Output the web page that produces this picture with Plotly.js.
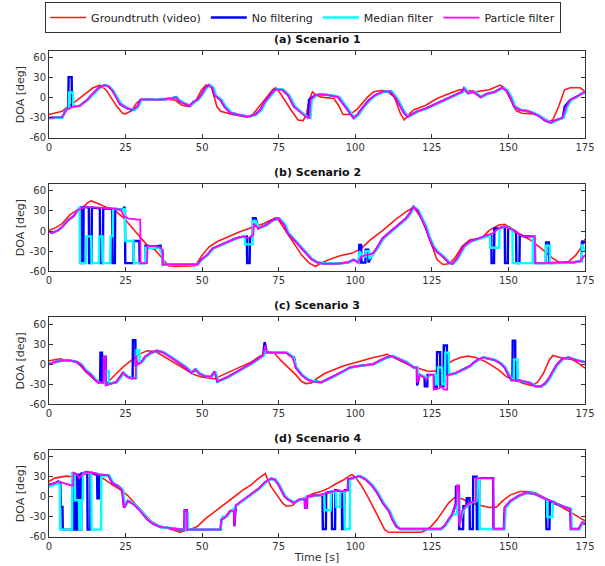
<!DOCTYPE html>
<html>
<head>
<meta charset="utf-8">
<script src="https://cdn.plot.ly/plotly-3.0.1.min.js"></script>
<style>html,body{margin:0;padding:0;background:#fff;}#chart{width:605px;height:566px;}</style>
</head>
<body>
<div id="chart"></div>
<script>
// ---------- Data: [time (s), DOA (deg)] ----------
const seriesNames = ["Groundtruth (video)", "No filtering", "Median filter", "Particle filter"];
const panelTitles = ["(a) Scenario 1", "(b) Scenario 2", "(c) Scenario 3", "(d) Scenario 4"];
const xTicks = [0, 25, 50, 75, 100, 125, 150, 175];
const yTicks = [-60, -30, 0, 30, 60];

// Scenario 1
const s1_gt = [[0,-25],[4.3,-20],[9.3,-3],[14.4,15],[16.7,19],[18.8,11],[22,-12],[24,-23],[25,-24],[27,-19],[28.5,-8],[30,-3],[30.8,-2],[33,-3],[38,-2],[41,-3],[43.4,-11],[46,-13],[47.8,-6],[49.7,11],[51.2,19],[53,17],[54.8,-13],[56,-20],[60,-25],[63.6,-28],[66,-28],[68.6,-13],[71,1],[73,12],[74,15],[75.6,6],[78.7,-16],[81.3,-33],[83,-34],[84,-25],[85,-3],[86,9],[87,5],[88.8,1],[93,-1],[94.5,-11],[96,-25],[98.3,-25],[100.8,-16],[104,1],[106,9],[108.5,11],[110.6,9],[112.8,1],[114.7,-23],[116,-33],[117.5,-25],[119,-18],[123,-11],[126.7,-1],[130.5,6],[134,12],[136.8,11],[139.3,9],[143.7,12],[147.3,19],[148.8,15],[150.7,-3],[152.5,-19],[154.4,-23],[158.2,-24],[160.7,-28],[163.3,-35],[164.5,-33],[166.4,-13],[168.3,12],[170.2,15],[173.4,15],[174.6,11],[175,6]];
const s1_pf = [[0,-30],[4.3,-29],[5.6,-18],[8,-13],[10,-12],[12.5,-3],[13.8,4],[15,9],[16.3,15],[18.2,19],[19.5,17],[20.7,11],[22,1],[23.2,-9],[24.5,-13],[25.8,-16],[27.6,-18],[28.9,-13],[29.9,-3],[32,-2],[35,-3],[38,-2],[40,-1],[41.5,1],[42.4,-4],[44,-8],[46,-12],[47.2,-6],[48.5,-3],[49.7,4],[51,14],[52.2,19],[53.4,15],[54.1,4],[56,-3],[57.3,-13],[59.2,-22],[61.7,-25],[64.9,-28],[67.4,-25],[69,-18],[70.5,-6],[71.8,1],[73.7,12],[76.2,12],[78.1,4],[80,-13],[81.9,-20],[83.8,-28],[85,-30],[85.4,-3],[87,4],[88.8,5],[91.4,4],[94.5,1],[96.4,-11],[98.3,-23],[99.5,-30],[100.8,-25],[102.7,-13],[104.6,-3],[106.5,4],[109,9],[111.5,10],[113.4,-1],[114.7,-11],[116,-23],[117.2,-28],[118.5,-25],[120.4,-20],[123,-16],[125.4,-11],[128,-6],[130.5,-1],[133,4],[134.9,9],[135.5,14],[136.8,7],[138.6,9],[140,4],[141,1],[143,6],[145.6,9],[148,15],[149.4,11],[150.7,1],[151.9,-13],[153.8,-18],[156.4,-20],[158.2,-23],[160,-27],[162,-34],[163.9,-37],[165.8,-33],[167.7,-30],[168.9,-13],[170.2,-3],[172,1],[174,6],[175,9]];
const s1_nf = [[0,-30],[4.3,-29],[5.6,-18],[6.3,-16],[6.4,31],[7.4,31],[7.5,-13],[8,-13],[10,-12],[12.5,-3],[13.8,4],[15,9],[16.3,15],[18.2,19],[19.5,17],[20.7,11],[22,1],[23.2,-9],[24.5,-13],[25.8,-16],[27.6,-18],[28.9,-13],[29.9,-3],[32,-2],[35,-3],[38,-2],[40,-1],[41.5,1],[42.4,-4],[44,-8],[46,-12],[47.2,-6],[48.5,-3],[49.7,4],[51,14],[52.2,19],[53.4,15],[54.1,4],[56,-3],[57.3,-13],[59.2,-22],[61.7,-25],[64.9,-28],[67.4,-25],[69,-18],[70.5,-6],[71.8,1],[73.7,12],[76.2,12],[78.1,4],[80,-13],[81.9,-20],[83.8,-28],[84.6,-30],[84.9,-3],[87,4],[88.8,5],[91.4,4],[94.5,1],[96.4,-11],[98.3,-23],[99.5,-30],[100.8,-25],[102.7,-13],[104.6,-3],[106.5,4],[109,9],[111.5,10],[113.4,-1],[114.7,-11],[116,-23],[117.2,-28],[118.5,-25],[120.4,-20],[123,-16],[125.4,-11],[128,-6],[130.5,-1],[133,4],[134.9,9],[135.5,14],[136.8,7],[138.6,9],[140,4],[141,1],[143,6],[145.6,9],[148,15],[149.4,11],[150.7,1],[151.9,-13],[153.8,-18],[156.4,-20],[158.2,-23],[160,-27],[162,-34],[163.9,-37],[165.8,-33],[167.7,-30],[168.4,-13],[170.2,-3],[172,1],[174,6],[175,9]];
const s1_md = [[0,-31],[4.3,-29],[5.6,-18],[6.5,-16],[6.6,8],[7.8,8],[7.9,-13],[8,-13],[10,-12],[12.8,-3],[14.2,4],[15.4,9],[16.6,15],[18.5,19],[19.8,17],[21,11],[22.4,1],[23.6,-9],[24.9,-13],[26.2,-16],[28,-18],[29.3,-13],[30.3,-3],[32,-2],[35,-3],[38,-2],[40,-1],[41.8,1],[42.8,-4],[44.4,-8],[46.4,-12],[47.6,-6],[48.8,-3],[50,4],[51.4,14],[52.6,19],[53.8,15],[54.5,4],[56.4,-3],[57.8,-13],[59.6,-22],[62,-25],[65.3,-28],[67.8,-25],[69.4,-18],[70.9,-6],[72.2,1],[74,12],[76.6,12],[78.5,4],[80.4,-13],[82.3,-20],[84.2,-28],[85.4,-30],[85.8,-3],[87.4,4],[89,5],[91.8,4],[94.9,1],[96.8,-11],[98.7,-23],[99.9,-30],[101.2,-25],[103,-13],[105,-3],[106.9,4],[109.4,9],[111.9,10],[113.8,-1],[115.1,-11],[116.4,-23],[117.6,-28],[118.9,-25],[120.8,-20],[123.4,-16],[125.8,-11],[128.4,-6],[130.9,-1],[133.4,4],[135.3,9],[135.9,14],[137.2,7],[139,9],[140.4,4],[141.4,1],[143.4,6],[146,9],[148.4,15],[149.8,11],[151.1,1],[152.3,-13],[154.2,-18],[156.8,-20],[158.6,-23],[160.4,-27],[162.4,-34],[164.3,-37],[166.2,-33],[168.1,-30],[169.3,-13],[170.6,-3],[172.4,1],[174.3,6],[175,9]];

// Scenario 2
const s2_gt = [[0,1],[1.8,4],[4.3,11],[6.8,24],[8.7,30],[10.6,32],[12.5,42],[13.8,45],[15.6,42],[18.8,36],[22,29],[24.5,19],[27,6],[29.5,-8],[32,-21],[34.6,-28],[37,-41],[39,-52],[41,-53],[47,-53],[47.8,-52],[49.7,-38],[52.2,-24],[54.8,-16],[58.5,-8],[62.3,-1],[66,5],[70,11],[72.4,16],[74,20],[75,16],[77.5,-1],[80,-18],[82.5,-36],[85,-48],[87,-53],[88.8,-48],[91.3,-43],[95,-37],[99,-33],[102,-26],[105,-13],[109,1],[112.8,16],[116.6,29],[118.5,34],[119.5,33],[121.6,19],[124,-8],[125.4,-28],[126.7,-43],[128.6,-50],[130.5,-49],[132.4,-41],[134.9,-23],[137.4,-13],[141.2,-11],[143.7,1],[146.9,9],[148.8,10],[150.7,5],[153.2,-3],[157,-13],[160.7,-26],[164.5,-41],[167,-48],[169.6,-46],[172,-36],[174,-23],[175,-12]];
const s2_pf = [[0,-1],[1,-3],[3,1],[4.3,6],[6.2,16],[8,22],[9.3,31],[11.9,36],[15.6,35],[20,34],[23,32],[23.5,31],[24.5,22],[25.7,19],[28.9,17],[29.8,17],[29.9,-48],[32,-48],[32.2,-22],[35,-23],[36.4,-25],[37,-28],[37.2,-50],[48.5,-50],[49.7,-43],[51.6,-36],[53.5,-26],[56,-21],[58.5,-16],[61,-11],[63.6,-8],[65,-11],[66.7,-6],[66.9,11],[68.3,4],[71,9],[73,16],[75,19],[76.9,9],[78,-3],[80,-13],[81.9,-23],[83.8,-33],[85.7,-42],[87.6,-47],[90,-49],[93.9,-49],[97.7,-47],[99.5,-43],[100.8,-47],[102,-38],[105.9,-33],[107,-26],[109,-11],[111,-3],[112.8,4],[114.7,11],[116.6,19],[117.8,26],[119,36],[120.4,31],[121.6,19],[123,6],[124,-8],[125.4,-23],[126.7,-31],[128.6,-38],[130.5,-47],[131.7,-49],[133,-43],[134.3,-33],[135.5,-23],[137.4,-16],[139.9,-12],[143,-7],[145,-3],[146.9,4],[148.8,7],[151.3,2],[153.8,-6],[155,-8],[158.6,-8],[158.7,-48],[162,-48],[165,-47],[168,-48],[171,-47],[173.5,-45],[175,-36]];
const s2_nf = [[0,-1],[1,-3],[3,1],[4.3,6],[6.2,16],[8,22],[9.3,31],[10.5,36],[10.6,-48],[11.2,-48],[11.3,36],[13,35],[13.1,-48],[13.9,-48],[14,35],[16.6,34],[16.7,-48],[17.6,-48],[17.7,34],[20.6,33],[20.7,-48],[21.5,-48],[21.6,33],[24,32],[24.8,36],[24.9,-48],[27.6,-48],[27.7,-15],[29.5,-15],[29.6,-48],[31.4,-48],[31.5,-22],[35,-23],[36.4,-22],[36.5,-30],[37,-28],[37.2,-50],[48.5,-50],[49.7,-43],[51.6,-36],[53.5,-26],[56,-21],[58.5,-16],[61,-11],[63.6,-8],[64.6,-8],[64.7,-48],[65.5,-48],[65.6,-11],[66.5,-6],[66.6,19],[67.5,19],[68.3,4],[71,9],[73,16],[75,19],[76.9,9],[78,-3],[80,-13],[81.9,-23],[83.8,-33],[85.7,-42],[87.6,-47],[90,-49],[93.9,-49],[97.7,-47],[99.5,-43],[100.8,-47],[101.2,-47],[101.3,-21],[101.9,-21],[102,-47],[103.3,-47],[103.4,-28],[104.2,-28],[104.3,-47],[105.9,-33],[107,-26],[109,-11],[111,-3],[112.8,4],[114.7,11],[116.6,19],[117.8,26],[119,36],[120.4,31],[121.6,19],[123,6],[124,-8],[125.4,-23],[126.7,-31],[128.6,-38],[130.5,-47],[131.7,-49],[133,-43],[134.3,-33],[135.5,-23],[137.4,-16],[139.9,-12],[143,-7],[144.4,-7],[144.5,-48],[145.3,-48],[145.4,4],[146.9,4],[148.8,7],[148.9,-48],[149.8,-48],[149.9,5],[151.3,2],[152.5,-2],[152.6,-48],[153.6,-48],[153.7,-6],[155,-8],[158.6,-8],[158.7,-48],[162.2,-48],[162.3,-17],[163.2,-17],[163.3,-48],[168,-48],[171,-47],[173.5,-45],[173.9,-45],[174,-15],[175,-18]];
const s2_md = [[0,-1],[1,-3],[3,1],[4.3,6],[6.2,16],[8,22],[9.3,31],[10,36],[10.1,-48],[12.1,-48],[12.2,-8],[13.8,-8],[13.9,-48],[16.3,-48],[16.4,-8],[17.5,-8],[17.6,-48],[20,-48],[20.1,-8],[20.8,-8],[20.9,33],[24,32],[24.8,33],[24.9,-15],[27.6,-15],[27.7,-48],[31.4,-48],[31.5,-25],[36,-25],[36.5,-28],[37.6,-50],[48.5,-50],[49.9,-43],[51.8,-36],[53.8,-26],[56.3,-21],[58.8,-16],[61.3,-11],[63.9,-8],[64.1,-20],[66.5,-20],[66.6,15],[67.5,15],[68.6,4],[71.3,9],[73.3,16],[75.3,19],[77.2,9],[78.3,-3],[80.3,-13],[82.2,-23],[84.1,-33],[86,-42],[87.9,-47],[90.3,-49],[94.2,-49],[98,-47],[99.8,-43],[101.1,-47],[101.4,-30],[102.3,-38],[103.4,-38],[103.5,-30],[104.5,-30],[104.6,-42],[106.2,-33],[107.3,-26],[109.3,-11],[111.3,-3],[113.1,4],[115,11],[116.9,19],[118.1,26],[119.3,36],[120.7,31],[121.9,19],[123.3,6],[124.3,-8],[125.7,-23],[127,-31],[128.9,-38],[130.8,-47],[132,-49],[133.3,-43],[134.6,-33],[135.8,-23],[137.7,-16],[140.2,-12],[143.3,-7],[144,-7],[144.1,-25],[147,-25],[147.1,4],[149.1,7],[151.3,2],[151.4,-48],[157.9,-48],[158,-8],[158.6,-8],[158.7,-48],[162.1,-48],[162.2,-22],[163.5,-22],[163.6,-48],[168,-48],[171,-47],[173.5,-45],[173.9,-45],[174,-20],[175,-30]];

// Scenario 3
const s3_gt = [[0,5],[1.8,7],[3.7,8],[5.6,6],[8,5],[10,-1],[11.9,-11],[14.4,-21],[16.9,-27],[18.8,-29],[20,-23],[22,-14],[24.5,-3],[27,6],[29.5,15],[32,20],[34.6,19],[37,13],[39.6,6],[42.1,-1],[44.7,-9],[47.2,-15],[49.7,-19],[52.2,-21],[54.1,-22],[56.7,-16],[59.8,-10],[63,-4],[66,3],[68.6,11],[71,17],[72.4,18],[73.7,16],[75.6,6],[78.1,-5],[80.6,-16],[82.5,-26],[83.8,-29],[85.7,-28],[87.6,-21],[90,-14],[92.6,-9],[95.8,-3],[99,1],[102.7,6],[105.9,10],[109,13],[110.3,15],[111.5,12],[114,6],[116.6,1],[119,-4],[121.6,-8],[124,-11],[126.7,-10],[129.2,-3],[131.7,5],[134.3,10],[136.8,12],[139.3,10],[141.9,5],[144.3,-1],[146.9,-9],[149.4,-19],[151.9,-24],[155,-29],[157.6,-32],[159.5,-27],[161.4,-14],[163.3,6],[164.5,13],[166.4,11],[168.3,8],[170.8,7],[172.7,2],[175,-6]];
const s3_pf = [[0,0],[1.8,3],[5,6],[7.4,5],[9.3,3],[10.6,-1],[11.9,-9],[13.8,-16],[15,-23],[16.3,-28],[17.8,-28],[17.9,11],[18.5,11],[18.6,-31],[20,-29],[22,-27],[24.2,-13],[25.7,-19],[27,-21],[28.3,-21],[28.4,13],[28.9,-1],[30.2,3],[31.4,11],[33.3,17],[35.2,20],[37.1,18],[39,13],[40.9,7],[42.8,1],[44.7,-5],[46.6,-13],[47.8,-8],[49.1,-14],[51,-18],[52.9,-19],[54.1,-11],[55,-26],[56.7,-23],[58.5,-19],[60.4,-14],[62.3,-9],[64.2,-5],[66.1,1],[68,7],[69.9,13],[70.6,28],[71.2,18],[73.7,17],[77.5,17],[79.4,11],[80.6,-5],[82.5,-16],[84.4,-23],[86.3,-26],[88.9,-27],[91.3,-22],[93.9,-16],[96.4,-10],[98.3,-5],[100.8,-3],[103.3,-1],[105.9,0],[108.4,6],[110.3,10],[112.2,12],[114.1,8],[116.6,3],[119.1,-5],[120.1,-5],[120.2,-28],[121,-16],[122.3,-19],[123.3,-23],[124,-16],[125.5,-16],[125.6,-38],[127.5,-36],[128,-33],[129,-38],[130,-38],[130.1,-16],[132.4,-14],[134.3,-10],[136.1,-6],[137.4,-3],[138.6,2],[139.9,6],[141.9,10],[143.7,8],[145.6,6],[147.5,1],[148.8,-5],[150,-16],[151.3,-24],[153.2,-24],[155,-26],[157,-28],[158.8,-33],[160.7,-33],[162,-29],[163.3,-21],[164.5,-11],[165.8,-1],[167.7,8],[169.6,10],[172.1,6],[175,3]];
const s3_nf = [[0,0],[1.8,3],[5,6],[7.4,5],[9.3,3],[10.6,-1],[11.9,-9],[13.8,-16],[15,-23],[16.3,-28],[16.7,-28],[16.8,17],[17.3,17],[17.4,-28],[17.8,-28],[17.9,11],[18.5,11],[18.6,-31],[20,-29],[22,-27],[24.2,-13],[25.7,-19],[27,-21],[27.3,-21],[27.4,36],[28.2,36],[28.3,-1],[30.2,3],[31.4,11],[33.3,17],[35.2,20],[37.1,18],[39,13],[40.9,7],[42.8,1],[44.7,-5],[46.6,-13],[47.8,-8],[49.1,-14],[51,-18],[52.9,-19],[54.1,-11],[55,-26],[56.7,-23],[58.5,-19],[60.4,-14],[62.3,-9],[64.2,-5],[66.1,1],[68,7],[69.9,13],[70.4,33],[71.2,18],[73.7,17],[77.5,17],[79.4,11],[80,10],[80.6,-5],[82.5,-16],[84.4,-23],[86.3,-26],[88.9,-27],[91.3,-22],[93.9,-16],[96.4,-10],[98.3,-5],[100.8,-3],[103.3,-1],[105.9,0],[108.4,6],[110.3,10],[112.2,12],[114.1,8],[116.6,3],[119.1,-5],[120.1,-5],[120.2,-32],[121,-16],[122.3,-19],[122.6,-19],[122.7,-33],[123.5,-33],[123.6,-16],[126,-16],[126.1,-36],[126.6,-36],[126.7,18],[127.7,18],[127.8,-33],[128.8,-33],[128.9,28],[129.9,28],[130,-16],[132.4,-14],[134.3,-10],[136.1,-6],[137.4,-3],[138.6,2],[139.9,6],[141.9,10],[143.7,8],[145.6,6],[147.5,1],[148.8,-5],[150,-16],[151,-24],[151.3,-24],[151.4,35],[152.2,35],[152.3,-24],[153.2,-24],[155,-26],[157,-28],[158.8,-33],[160.7,-33],[162,-29],[163.3,-21],[164.5,-11],[165.8,-1],[167.7,8],[169.6,10],[172.1,6],[175,3]];
const s3_md = [[0,1],[1.8,3],[5,6],[7.4,5],[9.6,3],[10.9,-1],[12.2,-9],[14.1,-16],[15.3,-23],[16.6,-28],[18.4,-28],[18.5,-10],[19.5,-10],[19.6,-29],[22.3,-27],[24.5,-13],[26,-19],[27.3,-21],[28.5,-21],[28.6,21],[29.5,21],[29.6,3],[30.5,3],[31.7,11],[33.6,17],[35.5,20],[37.4,18],[39.3,13],[41.2,7],[43.1,1],[45,-5],[46.9,-13],[48.1,-8],[49.4,-14],[51.3,-18],[53.2,-19],[54.4,-11],[55.3,-26],[57,-23],[58.8,-19],[60.7,-14],[62.6,-9],[64.5,-5],[66.4,1],[68.3,7],[70.2,13],[70.8,24],[71.6,18],[74,17],[77.8,17],[79.7,11],[80.9,-5],[82.8,-16],[84.7,-23],[86.6,-26],[89.2,-27],[91.6,-22],[94.2,-16],[96.7,-10],[98.6,-5],[101.1,-3],[103.6,-1],[106.2,0],[108.7,6],[110.6,10],[112.5,12],[114.4,8],[116.9,3],[119.4,-5],[120.4,-5],[120.5,-20],[121.5,-16],[122.6,-19],[123.8,-20],[124.4,-16],[126.2,-16],[126.3,-30],[126.9,-30],[127,-5],[128.3,-5],[128.4,-30],[129.3,-30],[129.4,17],[130.5,17],[130.6,-16],[132.7,-14],[134.6,-10],[136.4,-6],[137.7,-3],[138.9,2],[140.2,6],[142.2,10],[144,8],[145.9,6],[147.8,1],[149.1,-5],[150.3,-16],[151.3,-24],[151.7,-24],[151.8,7],[153,7],[153.1,-24],[155.3,-26],[157.3,-28],[159.1,-33],[161,-33],[162.3,-29],[163.6,-21],[164.8,-11],[166.1,-1],[168,8],[169.9,10],[172.4,6],[175,3]];

// Scenario 4
const s4_gt = [[0,23],[1.8,28],[5.6,31],[8,30],[10.6,32],[13.1,36],[15.6,32],[18.2,26],[20.7,18],[23.2,11],[25.7,2],[28.2,-10],[30.8,-24],[33.3,-36],[35.8,-43],[38.4,-46],[40.9,-50],[42.8,-53],[44,-51],[46,-49],[48.5,-44],[51,-33],[53.5,-24],[56,-15],[58.5,-6],[61,2],[63.6,11],[66,18],[68,26],[69.9,33],[70.6,35],[71.2,28],[72.4,16],[74.4,3],[76.2,-9],[77.5,-14],[79.4,-13],[81.3,-6],[83.8,0],[86.3,5],[88.8,8],[91.3,13],[93.9,20],[96.4,26],[98.3,32],[99,33],[100.2,28],[102,17],[104.6,-4],[107.1,-26],[109.6,-49],[110.9,-53],[121.6,-53],[122.9,-50],[124.8,-44],[126.7,-34],[128.6,-21],[130.5,-9],[132.4,-1],[134.9,-3],[137.4,-9],[140.5,-13],[143.7,-16],[146.2,-15],[148.1,-6],[150.7,3],[153.8,8],[156.4,8],[158.8,6],[161.4,0],[164.5,-9],[167.7,-16],[170.8,-24],[173.3,-31],[175,-36]];
const s4_pf = [[0,18],[1.8,20],[3,23],[4.3,21],[6.2,18],[7.4,17],[7.9,17],[8,36],[9.3,33],[9.9,28],[11.2,35],[12.5,37],[14.4,36],[16.9,33],[19.4,32],[20.7,21],[22.6,16],[23.9,10],[24.5,-16],[25.8,-6],[27.7,-11],[29.5,-19],[30.8,-26],[32,-33],[33.9,-40],[36.4,-45],[38.3,-46],[40.8,-48],[42.7,-49],[44.2,-49],[44.3,-20],[45,-20],[45.1,-49],[56,-49],[56.3,-34],[57.9,-29],[59.2,-21],[60.4,-21],[60.5,-44],[61,-13],[63,-6],[64.9,0],[66.8,6],[68.7,13],[70.6,22],[72.5,27],[73.7,26],[75,18],[76.9,1],[78.1,-4],[80,-9],[81.9,-4],[83.5,-3],[83.6,-16],[84.2,-16],[84.3,0],[86.8,2],[88.8,3],[90.6,6],[92.6,8],[94.5,10],[95.8,8],[97.5,10],[97.7,26],[99.5,28],[101.5,31],[103.4,26],[105.3,18],[107.2,6],[109,-9],[111,-21],[112.2,-34],[113.4,-44],[114.7,-48],[128,-48],[129.2,-43],[130.5,-34],[131.7,-26],[133,-11],[133.2,17],[133.8,17],[134,-44],[134.9,-21],[136.1,-14],[137.4,-9],[139.3,-6],[139.5,28],[145,28],[145.1,-48],[148.5,-48],[148.8,-16],[150.7,-6],[153.2,1],[155.7,6],[158.2,5],[160.7,0],[163.3,-6],[165.8,-11],[168.3,-15],[170.2,-18],[170.4,-48],[173,-48],[174,-38],[175,-39]];
const s4_nf = [[0,18],[1.8,20],[3,23],[3.7,21],[3.8,-15],[4.4,-15],[4.5,-49],[7.6,-49],[7.7,35],[8.3,35],[8.4,-49],[9.1,-49],[9.2,33],[9.8,33],[9.9,-49],[10.5,-49],[10.6,35],[12.5,37],[12.6,-49],[13.5,-49],[13.6,36],[15.7,34],[15.8,-2],[16.3,-2],[16.4,33],[19.4,32],[20.7,21],[22.6,16],[23.9,10],[24.5,-16],[25.8,-6],[27.7,-11],[29.5,-19],[30.8,-26],[32,-33],[33.9,-40],[36.4,-45],[38.3,-46],[40.8,-48],[42.7,-49],[44.2,-49],[44.3,-20],[45,-20],[45.1,-49],[56,-49],[56.3,-34],[57.9,-29],[59.2,-21],[60.4,-21],[60.5,-44],[61,-13],[63,-6],[64.9,0],[66.8,6],[68.7,13],[70.6,22],[72.5,27],[73.7,26],[75,18],[76.9,1],[78.1,-4],[80,-9],[81.9,-4],[83.5,-3],[83.6,-16],[84.2,-16],[84.3,0],[86.8,2],[88.8,3],[89.3,3],[89.4,-48],[90.4,-48],[90.5,6],[92.3,8],[92.4,-48],[93.4,-48],[93.5,10],[95.6,8],[95.7,-48],[96.5,-48],[96.6,10],[97.6,10],[97.7,26],[99.5,28],[101.5,31],[103.4,26],[105.3,18],[107.2,6],[109,-9],[111,-21],[112.2,-34],[113.4,-44],[114.7,-48],[128,-48],[129.2,-43],[130.5,-34],[131.7,-26],[132.8,-11],[132.9,15],[133.8,15],[133.9,-48],[135.2,-48],[135.3,-14],[136.3,-14],[136.4,-2],[137.3,-2],[137.4,-48],[138.4,-48],[138.5,30],[139.6,30],[139.7,-48],[140.4,-48],[140.5,28],[145,28],[145.1,-48],[148.5,-48],[148.8,-16],[150.7,-6],[153.2,1],[155.7,6],[158.2,5],[160.7,0],[162.3,-4],[162.4,-48],[163.4,-48],[163.5,-6],[165.8,-11],[168.3,-15],[170.2,-18],[170.4,-48],[173,-48],[174,-40],[175,-40]];
const s4_md = [[0,15],[1.8,18],[3,20],[3.5,18],[3.6,-49],[7.5,-49],[7.6,35],[8.4,35],[8.5,-5],[9.8,-5],[9.9,-49],[10.5,-49],[10.6,-5],[11,-5],[11.1,35],[13.8,37],[13.9,-49],[17,-49],[17.1,30],[19.7,32],[21,21],[22.9,16],[24.2,10],[24.8,-13],[26.1,-6],[28,-11],[29.8,-19],[31.1,-26],[32.3,-33],[34.2,-40],[36.7,-45],[38.6,-46],[41.1,-48],[43,-49],[44.5,-49],[44.6,-24],[45.3,-24],[45.4,-49],[56,-49],[56.6,-30],[58.2,-29],[59.5,-21],[61.3,-13],[63.3,-6],[65.2,0],[67.1,6],[69,13],[70.9,22],[72.8,27],[74,26],[75.3,18],[77.2,1],[78.4,-4],[80.3,-9],[82.2,-4],[84.5,0],[87.1,2],[89,3],[89.9,3],[90,-20],[92,-20],[92.1,8],[93.7,8],[93.8,-15],[95,-15],[95.1,8],[96.5,8],[96.6,-48],[98.2,-48],[98.3,26],[99.8,28],[101.8,31],[103.7,26],[105.6,18],[107.5,6],[109.3,-9],[111.3,-21],[112.5,-34],[113.7,-44],[115,-48],[128.3,-48],[129.5,-43],[130.8,-34],[132,-26],[133.2,-26],[133.3,5],[134,5],[134.1,-40],[135.2,-21],[136.4,-14],[137.7,-9],[139.6,-6],[139.8,28],[140.5,28],[140.6,-48],[148.8,-48],[149.1,-16],[151,-6],[153.5,1],[156,6],[158.5,5],[161,0],[162.6,-4],[162.7,-30],[164.4,-30],[164.5,-6],[166.1,-11],[168.6,-15],[170.5,-18],[170.7,-48],[173.3,-48],[174.3,-38],[175,-39]];

const panels = [
  {gt: s1_gt, nf: s1_nf, md: s1_md, pf: s1_pf},
  {gt: s2_gt, nf: s2_nf, md: s2_md, pf: s2_pf},
  {gt: s3_gt, nf: s3_nf, md: s3_md, pf: s3_pf},
  {gt: s4_gt, nf: s4_nf, md: s4_md, pf: s4_pf}
];

// ---------- Styling ----------
const colors = {gt: "#ff1a1a", nf: "#0000ff", md: "#00ffff", pf: "#ff00ff"};
const widths = {gt: 1.6, nf: 2.4, md: 2.4, pf: 1.8};
const keys = ["gt", "nf", "md", "pf"];
const FONT = "DejaVu Sans, Arial, sans-serif";
const AX = "#333333";

const traces = [];
panels.forEach((p, i) => {
  const n = i + 1;
  keys.forEach((k, j) => {
    const d = p[k];
    traces.push({
      x: d.map(v => v[0]),
      y: d.map(v => v[1]),
      type: "scatter",
      mode: "lines",
      name: seriesNames[j],
      legendgroup: k,
      showlegend: i === 0,
      line: {color: colors[k], width: widths[k], shape: "linear"},
      xaxis: "x" + (n === 1 ? "" : n),
      yaxis: "y" + (n === 1 ? "" : n),
      hoverinfo: "skip"
    });
  });
});

const domains = [[0.821, 1], [0.547, 0.726], [0.273, 0.452], [0, 0.179]];
const layout = {
  width: 605, height: 566,
  margin: {l: 49, r: 20, t: 51, b: 29, autoexpand: false},
  paper_bgcolor: "#ffffff",
  plot_bgcolor: "#ffffff",
  font: {family: FONT, size: 10, color: "#333"},
  showlegend: true,
  legend: {
    orientation: "h", xref: "container", yref: "container",
    x: 0.501, xanchor: "center", y: 0.969, yanchor: "middle",
    bordercolor: AX, borderwidth: 1, bgcolor: "#ffffff",
    font: {family: FONT, size: 11, color: "#222"},
    tracegroupgap: 0, itemwidth: 36
  },
  annotations: [],
  shapes: []
};

domains.forEach((dom, i) => {
  const n = i + 1;
  const xa = "xaxis" + (n === 1 ? "" : n);
  const ya = "yaxis" + (n === 1 ? "" : n);
  layout[xa] = {
    domain: [0, 1], range: [0, 175], anchor: "y" + (n === 1 ? "" : n),
    tickvals: xTicks, ticktext: xTicks.map(String),
    ticks: "inside", ticklen: 4, tickcolor: AX, tickwidth: 1,
    showline: true, linecolor: AX, linewidth: 1, mirror: "ticks",
    showgrid: false, zeroline: false,
    tickfont: {family: FONT, size: 10, color: "#333"},
    automargin: false
  };
  if (n === 4) {
    layout[xa].title = {text: "Time [s]", font: {family: FONT, size: 11, color: "#333"}, standoff: 2};
  }
  layout[ya] = {
    domain: dom, range: [-60, 70], anchor: "x" + (n === 1 ? "" : n),
    tickvals: yTicks, ticktext: yTicks.map(String),
    ticks: "inside", ticklen: 4, tickcolor: AX, tickwidth: 1,
    showline: true, linecolor: AX, linewidth: 1, mirror: "ticks",
    showgrid: false, zeroline: false,
    tickfont: {family: FONT, size: 10, color: "#333"},
    title: {text: "DOA [deg]", font: {family: FONT, size: 11, color: "#333"}, standoff: 2},
    automargin: false
  };
  layout.annotations.push({
    text: "<b>" + panelTitles[i] + "</b>",
    xref: "paper", yref: "paper", x: 0.5, y: dom[1],
    xanchor: "center", yanchor: "bottom", yshift: 3, showarrow: false,
    font: {family: FONT, size: 11, color: "#111"}
  });
});

Plotly.newPlot("chart", traces, layout, {staticPlot: true, displayModeBar: false});
</script>
</body>
</html>
